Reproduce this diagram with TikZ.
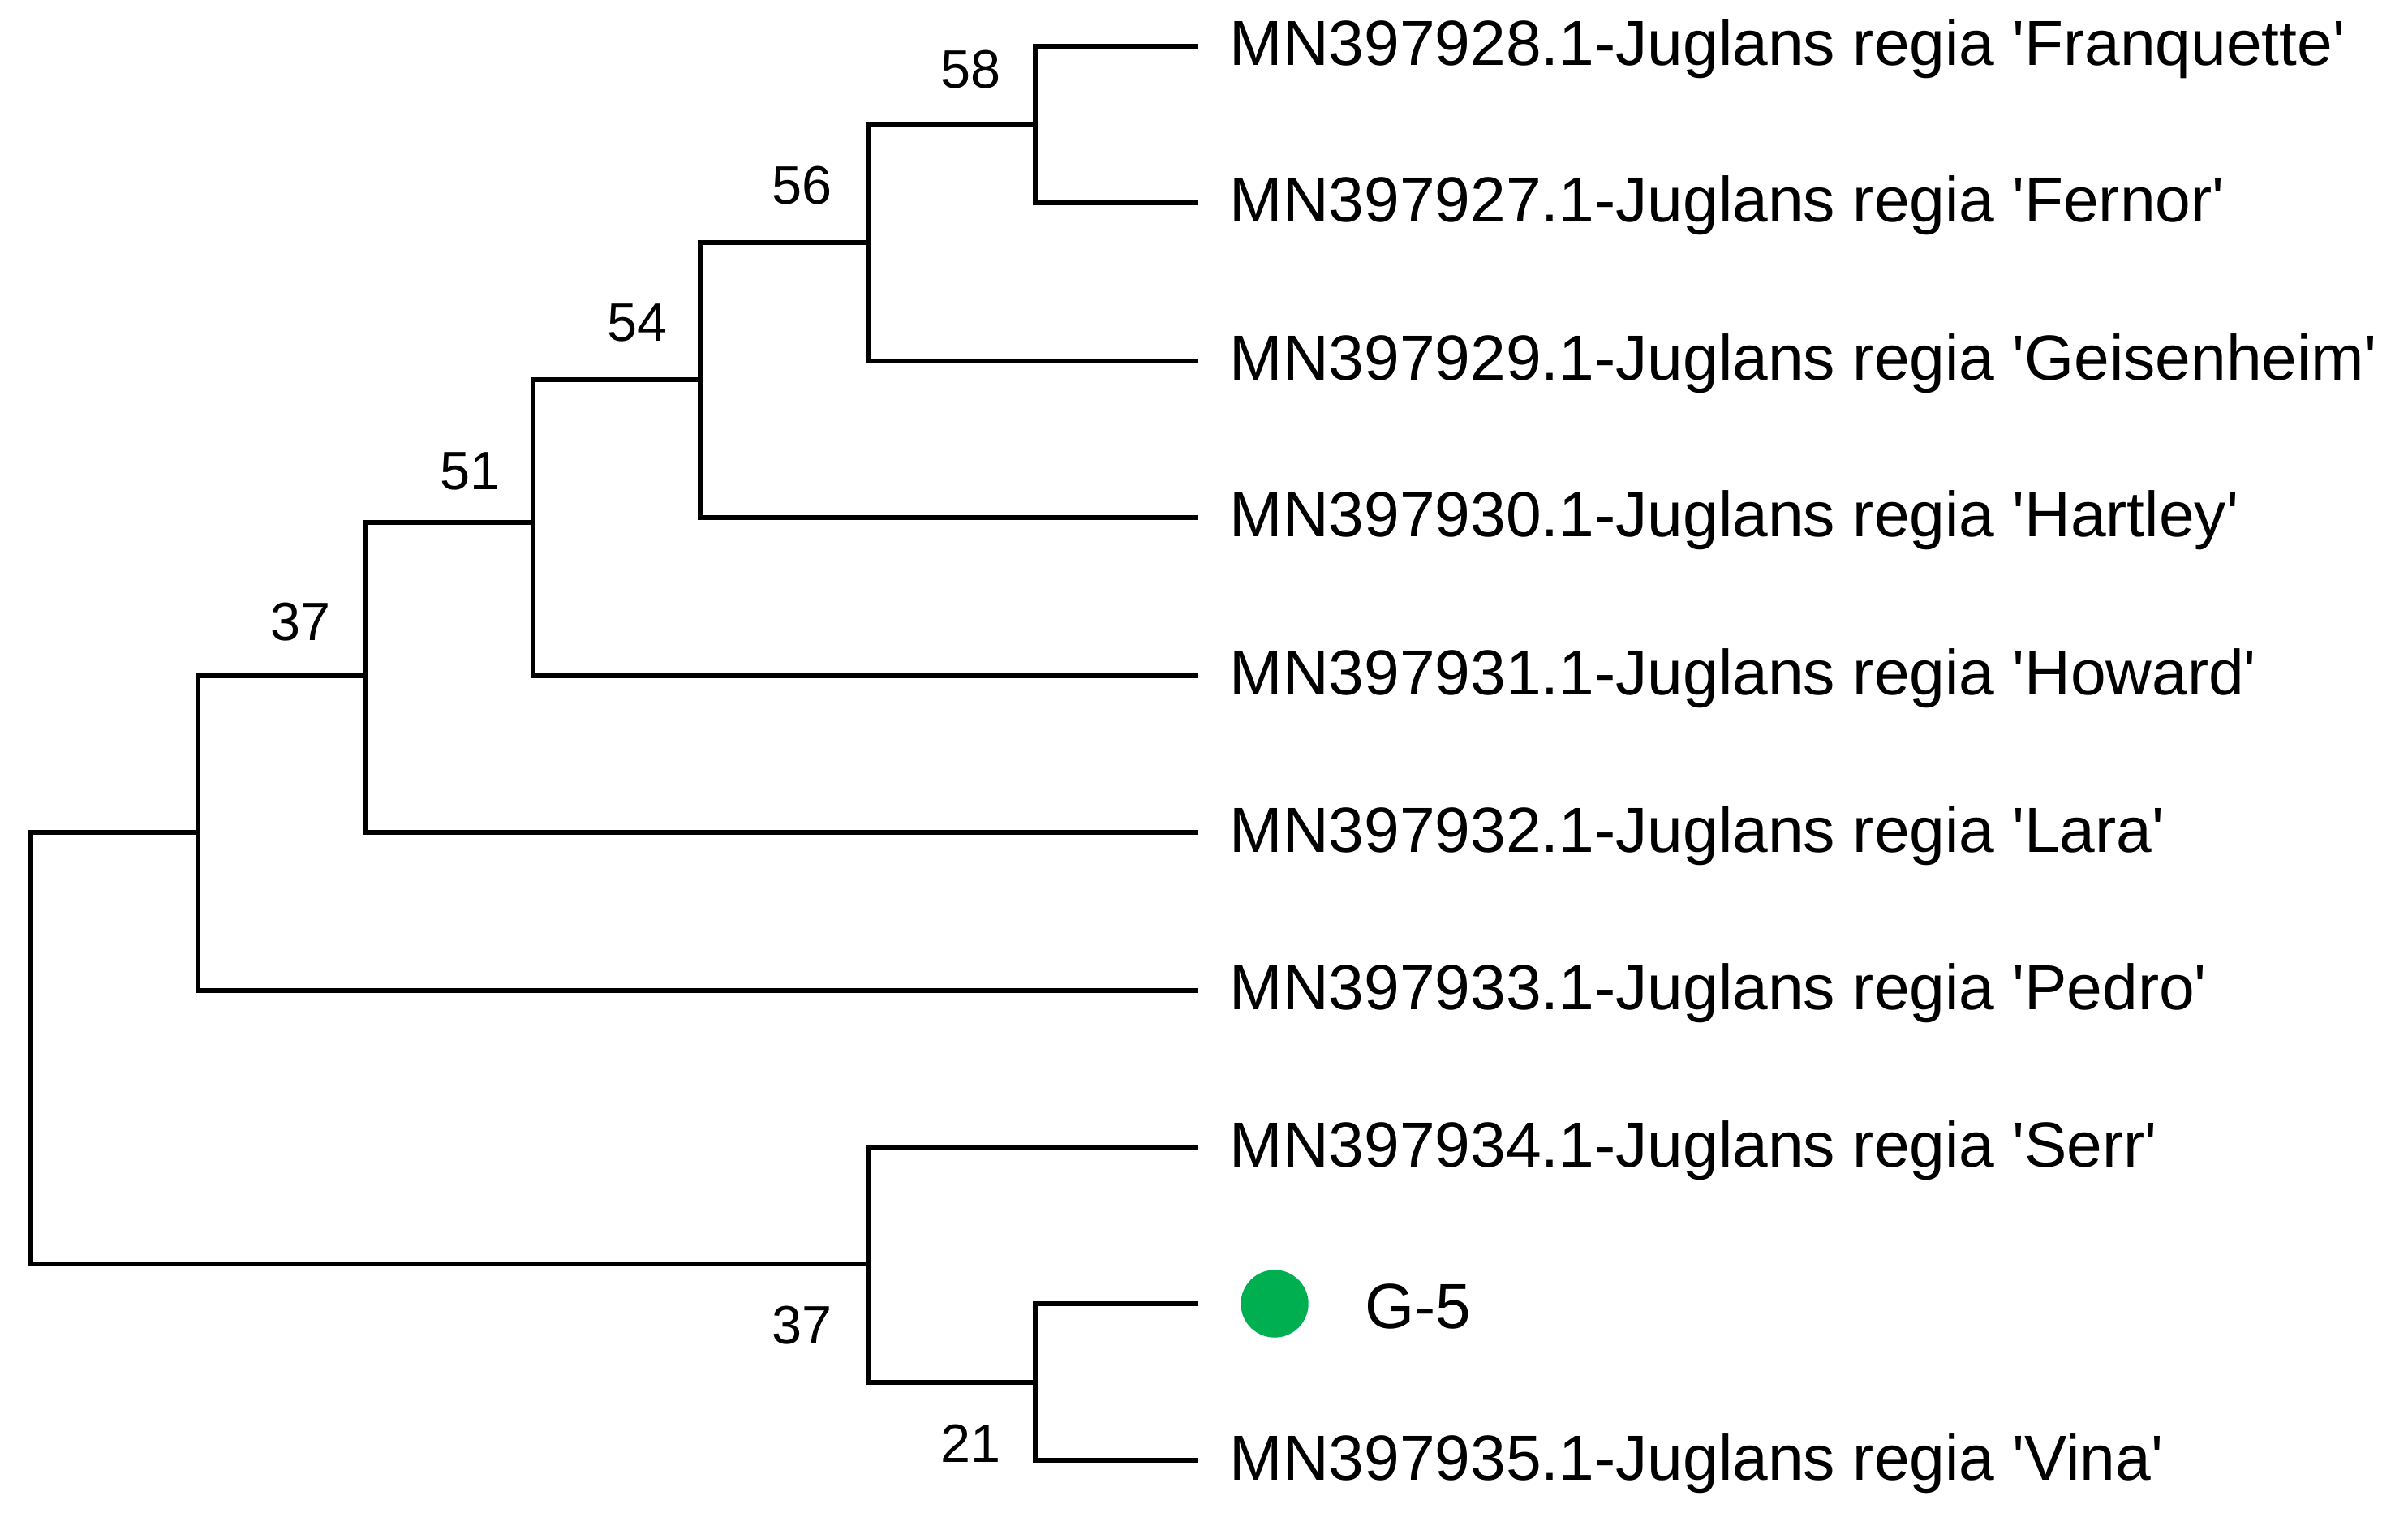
\documentclass[tikz,border=0pt]{standalone}
\usepackage{fontspec}
\setmainfont{Liberation Sans}
\newcommand{\q}{\textquotesingle}
\begin{document}
\begin{tikzpicture}[x=0.01cm,y=-0.01cm,
  br/.style={line width=0.9pt},
  leaf/.style={anchor=west,font=\fontsize{11.8}{13}\selectfont,inner sep=0pt},
  bs/.style={font=\fontsize{10}{12}\selectfont,inner sep=0pt}]
\useasboundingbox (0,0) rectangle (1568,985);
\definecolor{dotg}{RGB}{0,176,80}
% tips
\foreach \n/\y in {1/30,2/132,3/235,4/337,5/440,6/542,7/645,8/747,9/849,10/951}
  \coordinate (t\n) at (780,\y);
\node[leaf] (l1) at (800,32) {MN397928.1-Juglans regia \q Franquette\q};
\node[leaf] (l2) at (800,134) {MN397927.1-Juglans regia \q Fernor\q};
\node[leaf] (l3) at (800,237) {MN397929.1-Juglans regia \q Geisenheim\q};
\node[leaf] (l4) at (800,339) {MN397930.1-Juglans regia \q Hartley\q};
\node[leaf] (l5) at (800,442) {MN397931.1-Juglans regia \q Howard\q};
\node[leaf] (l6) at (800,544) {MN397932.1-Juglans regia \q Lara\q};
\node[leaf] (l7) at (800,647) {MN397933.1-Juglans regia \q Pedro\q};
\node[leaf] (l8) at (800,749) {MN397934.1-Juglans regia \q Serr\q};
\node[circle,fill=dotg,minimum size=0.44cm,inner sep=0pt] (dot) at (830,849) {};
\node[leaf] (l9) at (888,851) {G-5};
\node[leaf] (l10) at (800,953) {MN397935.1-Juglans regia \q Vina\q};
% internal nodes
\coordinate (n58) at (674,81);
\coordinate (n56) at (566,158);
\coordinate (n54) at (456,247);
\coordinate (n51) at (347,340);
\coordinate (n37) at (238,440);
\coordinate (nA) at (129,542);
\coordinate (n21) at (674,900);
\coordinate (nB) at (566,823);
\coordinate (root) at (20,683);
\draw[br] (n58) |- (t1) (n58) |- (t2);
\draw[br] (n56) |- (n58) (n56) |- (t3);
\draw[br] (n54) |- (n56) (n54) |- (t4);
\draw[br] (n51) |- (n54) (n51) |- (t5);
\draw[br] (n37) |- (n51) (n37) |- (t6);
\draw[br] (nA) |- (n37) (nA) |- (t7);
\draw[br] (n21) |- (t9) (n21) |- (t10);
\draw[br] (nB) |- (t8) (nB) |- (n21);
\draw[br] (root) |- (nA) (root) |- (nB);
% bootstrap labels
\node[bs] (b58) at (632,45) {58};
\node[bs] (b56) at (522,121) {56};
\node[bs] (b54) at (415,210) {54};
\node[bs] (b51) at (306,307) {51};
\node[bs] (b37) at (196,405) {37};
\node[bs] (b37b) at (522,863) {37};
\node[bs] (b21) at (632,940) {21};
\end{tikzpicture}
\end{document}
